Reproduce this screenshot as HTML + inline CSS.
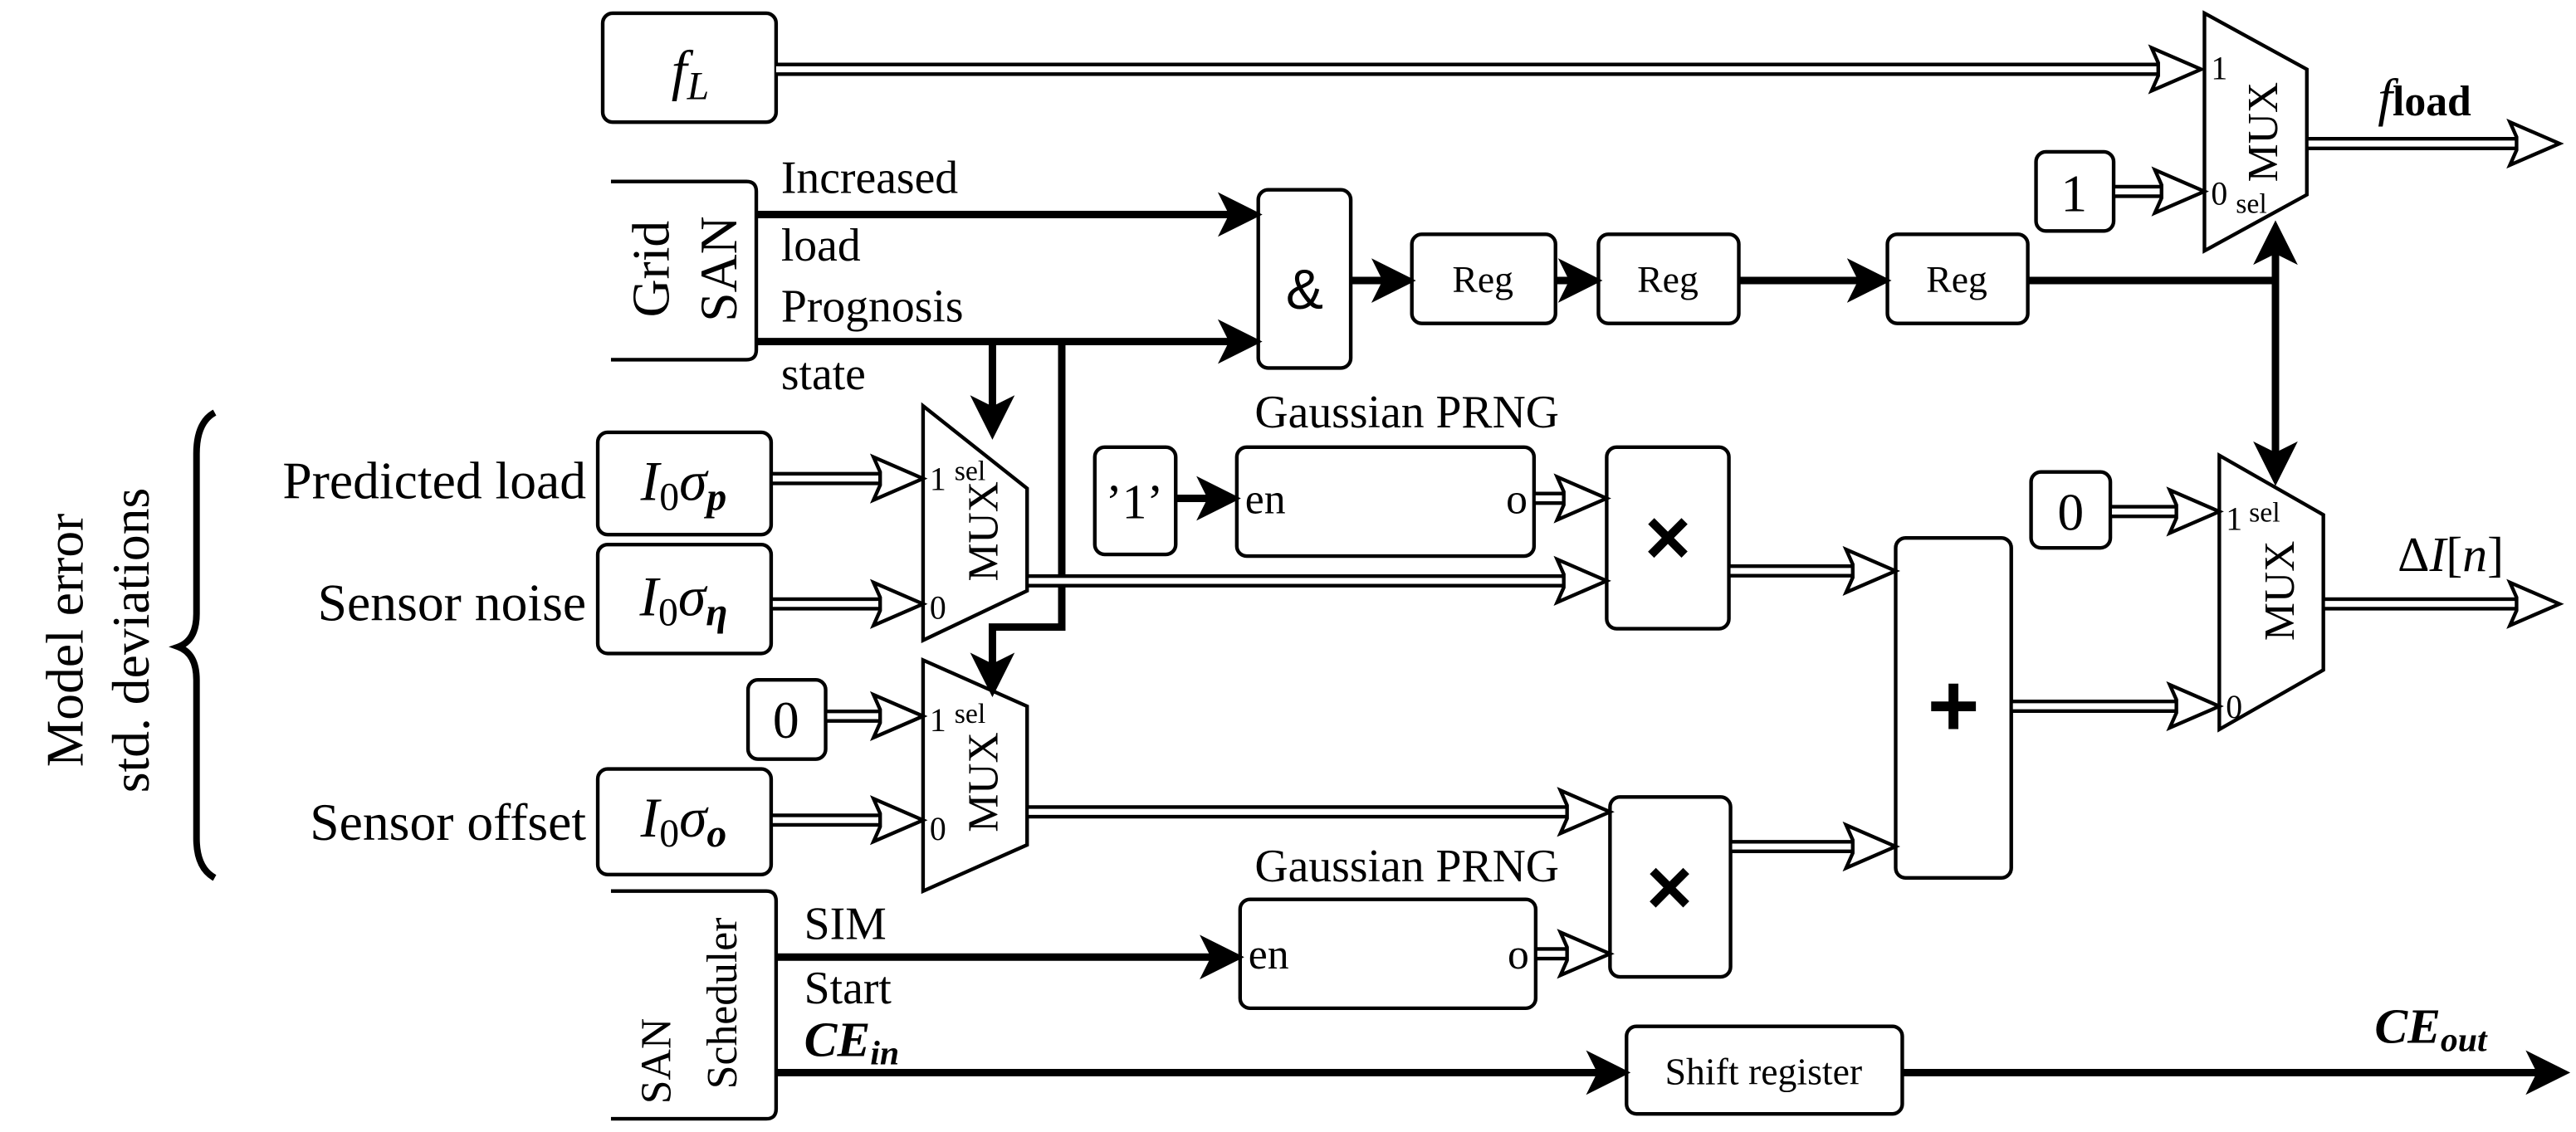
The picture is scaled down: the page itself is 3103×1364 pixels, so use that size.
<!DOCTYPE html>
<html><head><meta charset="utf-8"><style>
html,body{margin:0;padding:0;background:#fff}
svg{display:block}
</style></head><body>
<svg width="3103" height="1364" viewBox="0 0 1560 686" preserveAspectRatio="none" xmlns="http://www.w3.org/2000/svg" font-family="'Liberation Serif','DejaVu Serif',serif">
<defs>
<marker id="ah" markerWidth="6" markerHeight="6" refX="5" refY="3" orient="auto" markerUnits="strokeWidth">
<path d="M0,0 L6,3 L0,6 L1.5,3 Z" fill="#000"/></marker>
</defs>
<g fill="none" stroke="#000" stroke-width="2.2">
<rect x="365" y="8" width="105" height="66" rx="6"/>
<rect x="1233" y="92" width="47" height="48" rx="6"/>
<rect x="762" y="115" width="56" height="108" rx="6"/>
<rect x="855" y="142" width="87" height="54" rx="6"/>
<rect x="968" y="142" width="85" height="54" rx="6"/>
<rect x="1143" y="142" width="85" height="54" rx="6"/>
<rect x="362" y="262" width="105" height="62" rx="6"/>
<rect x="362" y="330" width="105" height="66" rx="6"/>
<rect x="362" y="466" width="105" height="64" rx="6"/>
<rect x="453" y="412" width="47" height="48" rx="6"/>
<rect x="663" y="271" width="49" height="65" rx="6"/>
<rect x="749" y="271" width="180" height="66" rx="6"/>
<rect x="751" y="545" width="179" height="66" rx="6"/>
<rect x="973" y="271" width="74" height="110" rx="6"/>
<rect x="975" y="483" width="73" height="109" rx="6"/>
<rect x="1148" y="326" width="70" height="206" rx="6"/>
<rect x="1230" y="286" width="48" height="46" rx="6"/>
<rect x="985" y="622" width="167" height="53" rx="6"/>
<path d="M370,110 H452 Q458,110 458,116 V212 Q458,218 452,218 H370"/>
<path d="M370,540 H464 Q470,540 470,546 V672 Q470,678 464,678 H370"/>
<polygon points="1335,8 1397,42 1397,118 1335,152"/>
<polygon points="1344,276 1407,312 1407,406 1344,442"/>
<polygon points="559,246 622,296 622,358 559,388"/>
<polygon points="559,400 622,428 622,512 559,540"/>
<path d="M130,250 Q119,256 119,275 V372 Q119,388 108,392 Q119,396 119,412 V508 Q119,526 130,532" stroke-width="4"/>
</g>
<g stroke="#000" stroke-width="4.5" fill="none" marker-end="url(#ah)">
<line x1="458" y1="130" x2="760" y2="130"/>
<line x1="458" y1="207" x2="760" y2="207"/>
<line x1="601" y1="207" x2="601" y2="262"/>
<polyline points="643,207 643,380 601,380 601,418"/>
<line x1="818" y1="170" x2="853" y2="170"/>
<line x1="942" y1="170" x2="966" y2="170"/>
<line x1="1053" y1="170" x2="1141" y2="170"/>
<line x1="1378" y1="170" x2="1378" y2="138"/>
<line x1="1378" y1="170" x2="1378" y2="290"/>
<line x1="712" y1="302" x2="747" y2="302"/>
<line x1="470" y1="580" x2="749" y2="580"/>
<line x1="470" y1="650" x2="983" y2="650"/>
<line x1="1152" y1="650" x2="1552" y2="650"/>
</g>
<line x1="1228" y1="170" x2="1380" y2="170" stroke="#000" stroke-width="4.5"/>
<g>
<g stroke="#000" stroke-width="8"><line x1="470" y1="42" x2="1313" y2="42"/><line x1="1397" y1="87" x2="1530" y2="87"/><line x1="1280" y1="116" x2="1315" y2="116"/><line x1="467" y1="290" x2="539" y2="290"/><line x1="467" y1="366" x2="539" y2="366"/><line x1="500" y1="434" x2="539" y2="434"/><line x1="467" y1="497" x2="539" y2="497"/><line x1="622" y1="352" x2="953" y2="352"/><line x1="622" y1="492" x2="955" y2="492"/><line x1="929" y1="302" x2="953" y2="302"/><line x1="930" y1="578" x2="955" y2="578"/><line x1="1047" y1="346" x2="1128" y2="346"/><line x1="1048" y1="513" x2="1128" y2="513"/><line x1="1218" y1="428" x2="1324" y2="428"/><line x1="1278" y1="310" x2="1324" y2="310"/><line x1="1407" y1="366" x2="1530" y2="366"/></g>
<g stroke="#fff" stroke-width="3.6"><line x1="470" y1="42" x2="1316" y2="42"/><line x1="1398" y1="87" x2="1533" y2="87"/><line x1="1281" y1="116" x2="1318" y2="116"/><line x1="468" y1="290" x2="542" y2="290"/><line x1="468" y1="366" x2="542" y2="366"/><line x1="501" y1="434" x2="542" y2="434"/><line x1="468" y1="497" x2="542" y2="497"/><line x1="623" y1="352" x2="956" y2="352"/><line x1="623" y1="492" x2="958" y2="492"/><line x1="930" y1="302" x2="956" y2="302"/><line x1="931" y1="578" x2="958" y2="578"/><line x1="1048" y1="346" x2="1131" y2="346"/><line x1="1049" y1="513" x2="1131" y2="513"/><line x1="1219" y1="428" x2="1327" y2="428"/><line x1="1279" y1="310" x2="1327" y2="310"/><line x1="1408" y1="366" x2="1533" y2="366"/></g>
<g fill="#fff" stroke="#000" stroke-width="2.2">
<polygon points="1333,42 1303,29 1307,38 1307,46 1303,55"/>
<polygon points="1550,87 1520,74 1524,83 1524,91 1520,100"/>
<polygon points="1335,116 1305,103 1309,112 1309,120 1305,129"/>
<polygon points="559,290 529,277 533,286 533,294 529,303"/>
<polygon points="559,366 529,353 533,362 533,370 529,379"/>
<polygon points="559,434 529,421 533,430 533,438 529,447"/>
<polygon points="559,497 529,484 533,493 533,501 529,510"/>
<polygon points="973,352 943,339 947,348 947,356 943,365"/>
<polygon points="975,492 945,479 949,488 949,496 945,505"/>
<polygon points="973,302 943,289 947,298 947,306 943,315"/>
<polygon points="975,578 945,565 949,574 949,582 945,591"/>
<polygon points="1148,346 1118,333 1122,342 1122,350 1118,359"/>
<polygon points="1148,513 1118,500 1122,509 1122,517 1118,526"/>
<polygon points="1344,428 1314,415 1318,424 1318,432 1314,441"/>
<polygon points="1344,310 1314,297 1318,306 1318,314 1314,323"/>
<polygon points="1550,366 1520,353 1524,362 1524,370 1520,379"/>
</g>
</g>
<g fill="#000">
<text x="418" y="54" font-size="34" font-style="italic" text-anchor="middle">f<tspan font-size="24" dy="6">L</tspan></text>
<text x="1256" y="128" font-size="32" text-anchor="middle">1</text>
<text x="790" y="187" font-size="34" text-anchor="middle" font-family="'Liberation Sans',sans-serif">&amp;</text>
<text x="898" y="177" font-size="23" text-anchor="middle">Reg</text>
<text x="1010" y="177" font-size="23" text-anchor="middle">Reg</text>
<text x="1185" y="177" font-size="23" text-anchor="middle">Reg</text>
<text x="473" y="117" font-size="28">Increased</text>
<text x="473" y="158" font-size="28">load</text>
<text x="473" y="195" font-size="28">Prognosis</text>
<text x="473" y="236" font-size="28">state</text>
<text transform="translate(405,163) rotate(-90)" font-size="32" text-anchor="middle">Grid</text>
<text transform="translate(446,163) rotate(-90)" font-size="32" text-anchor="middle">SAN</text>
<text transform="translate(406,643) rotate(-90)" font-size="26" text-anchor="middle">SAN</text>
<text transform="translate(446,608) rotate(-90)" font-size="26" text-anchor="middle">Scheduler</text>
<text transform="translate(50,388) rotate(-90)" font-size="32" text-anchor="middle">Model error</text>
<text transform="translate(90,388) rotate(-90)" font-size="32" text-anchor="middle">std. deviations</text>
<text x="355" y="302" font-size="32" text-anchor="end">Predicted load</text>
<text x="355" y="376" font-size="32" text-anchor="end">Sensor noise</text>
<text x="355" y="509" font-size="32" text-anchor="end">Sensor offset</text>
<text x="414" y="303" font-size="34" font-style="italic" text-anchor="middle">I<tspan font-style="normal" font-size="24" dy="6">0</tspan><tspan dy="-6">σ</tspan><tspan font-size="24" font-weight="bold" dy="6">p</tspan></text>
<text x="414" y="373" font-size="34" font-style="italic" text-anchor="middle">I<tspan font-style="normal" font-size="24" dy="6">0</tspan><tspan dy="-6">σ</tspan><tspan font-size="24" font-weight="bold" dy="6">η</tspan></text>
<text x="414" y="507" font-size="34" font-style="italic" text-anchor="middle">I<tspan font-style="normal" font-size="24" dy="6">0</tspan><tspan dy="-6">σ</tspan><tspan font-size="24" font-weight="bold" dy="6">o</tspan></text>
<text x="476" y="447" font-size="32" text-anchor="middle">0</text>
<text x="687" y="314" font-size="30" text-anchor="middle">’1’</text>
<text x="852" y="259" font-size="28" text-anchor="middle">Gaussian PRNG</text>
<text x="852" y="534" font-size="28" text-anchor="middle">Gaussian PRNG</text>
<text x="754" y="311" font-size="26">en</text>
<text x="925" y="311" font-size="26" text-anchor="end">o</text>
<text x="756" y="587" font-size="26">en</text>
<text x="926" y="587" font-size="26" text-anchor="end">o</text>
<text x="1010" y="342" font-size="48" text-anchor="middle" font-family="'Liberation Sans',sans-serif" font-weight="bold">×</text>
<text x="1011" y="554" font-size="48" text-anchor="middle" font-family="'Liberation Sans',sans-serif" font-weight="bold">×</text>
<text x="1183" y="446" font-size="54" text-anchor="middle" font-family="'Liberation Sans',sans-serif" font-weight="bold">+</text>
<text x="1254" y="321" font-size="32" text-anchor="middle">0</text>
<text x="1068" y="657" font-size="23" text-anchor="middle">Shift register</text>
<text x="487" y="569" font-size="28">SIM</text>
<text x="487" y="608" font-size="28">Start</text>
<text x="487" y="640" font-size="30" font-style="italic" font-weight="bold">CE<tspan font-size="21" dy="5">in</tspan></text>
<text x="1438" y="632" font-size="30" font-style="italic" font-weight="bold">CE<tspan font-size="21" dy="5">out</tspan></text>
<text x="1440" y="70" font-size="32" font-style="italic">f<tspan font-style="normal" font-size="26" font-weight="bold">load</tspan></text>
<text x="1452" y="346" font-size="30">Δ<tspan font-style="italic">I</tspan>[<tspan font-style="italic">n</tspan>]</text>
<text x="1339" y="48" font-size="20">1</text>
<text x="1339" y="124" font-size="20">0</text>
<text x="1354" y="129" font-size="17">sel</text>
<text transform="translate(1379,80) rotate(-90)" font-size="26" text-anchor="middle">MUX</text>
<text x="1348" y="321" font-size="20">1</text>
<text x="1362" y="316" font-size="17">sel</text>
<text x="1348" y="435" font-size="20">0</text>
<text transform="translate(1389,358) rotate(-90)" font-size="26" text-anchor="middle">MUX</text>
<text x="563" y="297" font-size="20">1</text>
<text x="578" y="291" font-size="17">sel</text>
<text x="563" y="375" font-size="20">0</text>
<text transform="translate(604,322) rotate(-90)" font-size="26" text-anchor="middle">MUX</text>
<text x="563" y="443" font-size="20">1</text>
<text x="578" y="438" font-size="17">sel</text>
<text x="563" y="509" font-size="20">0</text>
<text transform="translate(604,474) rotate(-90)" font-size="26" text-anchor="middle">MUX</text>
</g>
</svg>
</body></html>
